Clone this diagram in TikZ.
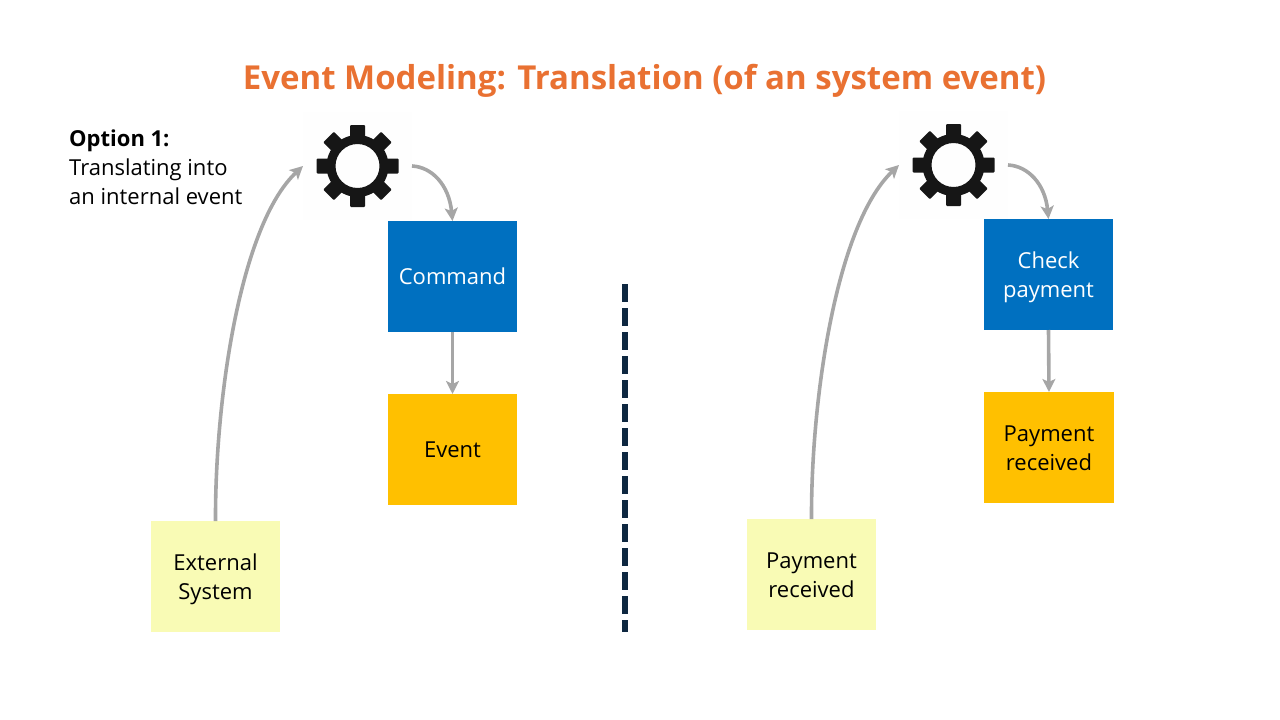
\documentclass[tikz,border=0pt]{standalone}
\usepackage{fontspec}
\setmainfont{Open Sans}
\usetikzlibrary{arrows.meta}
\definecolor{cmdblue}{HTML}{0070C0}
\definecolor{evamber}{HTML}{FFC000}
\definecolor{extyellow}{HTML}{F9FBB5}
\definecolor{linegray}{HTML}{A6A6A6}
\definecolor{titleorange}{HTML}{E97132}
\definecolor{dashnavy}{HTML}{0E2841}
\definecolor{gearblack}{HTML}{161616}
\definecolor{gearback}{HTML}{FEFEFE}
\newcommand{\gearshape}[1]{%
  \foreach \a in {0,45,...,315}{
    \fill[gearblack,rounded corners=1pt,rotate around={\a:(#1)}] ([xshift=-7.5pt]#1) ++(0,-26) rectangle ++(15,-15);
  }
  \fill[gearblack,even odd rule] (#1) circle[radius=31] (#1) circle[radius=22];
}
\newcommand{\firstline}{\rule{0pt}{22pt}}
\newcommand{\firstlinepay}{\rule{0pt}{18pt}}
\tikzset{
  x=1pt,y=-1pt,
  sticky/.style={minimum width=129,minimum height=111,inner sep=0,outer sep=0,align=center,font=\fontsize{22}{29}\selectfont},
  cmdbox/.style={sticky,fill=cmdblue,text=white},
  evbox/.style={sticky,fill=evamber,text=black},
  extbox/.style={sticky,fill=extyellow,text=black},
  gearbox/.style={minimum width=109,minimum height=108,inner sep=0,outer sep=0,fill=gearback},
  conn/.style={draw=linegray,line width=3.6pt,-{Stealth[length=13pt,width=13pt,inset=3pt]}},
}
\begin{document}
\begin{tikzpicture}
\useasboundingbox (0,0) rectangle (1280,720);
\node[font=\fontsize{33}{38}\selectfont\bfseries,text=titleorange,inner sep=0] (title) at (644.5,81) {Event Modeling: Translation (of an system event)};
\node[anchor=north west,inner sep=0,align=left,font=\fontsize{22}{29}\selectfont] (opt) at (69,130) {\textbf{Option 1:}\\Translating into\\an internal event};
% left
\node[gearbox] (g1) at (357.5,166) {};
\gearshape{g1.center}
\node[cmdbox] (c1) at (452.5,276.5) {Command};
\node[evbox] (e1) at (452.5,449.5) {Event};
\node[extbox] (x1) at (215.5,576.5) {\firstline External\\System};
\draw[conn] (x1.north) .. controls (215,400) and (240,225) .. (g1.west);
\draw[conn] (g1.east) .. controls (432,167) and (449,185) .. (c1.north);
\draw[conn] (c1.south) -- (e1.north);
% divider
\coordinate (d1) at (625,284);
\coordinate (d2) at (625,632);
\draw[dashnavy,line width=6pt,dash pattern=on 18pt off 6pt] (d1) -- (d2);
% right
\node[gearbox] (g2) at (953.5,165) {};
\gearshape{g2.center}
\node[cmdbox] (c2) at (1048.5,274.5) {\firstline Check\\payment};
\node[evbox,minimum width=130] (e2) at (1049,447.5) {\firstlinepay Payment\\received};
\node[extbox] (x2) at (811.5,574.5) {\firstlinepay Payment\\received};
\draw[conn] (x2.north) .. controls (811,400) and (836,225) .. (g2.west);
\draw[conn] (g2.east) .. controls (1028,166) and (1045,184) .. (c2.north);
\draw[conn] (c2.south) -- (e2.north);
\end{tikzpicture}
\end{document}
